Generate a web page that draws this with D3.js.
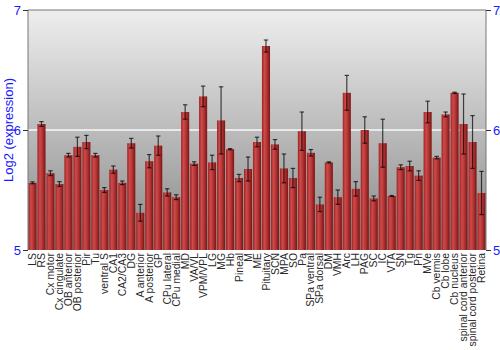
<!DOCTYPE html>
<html>
<head>
<meta charset="utf-8">
<script src="https://cdn.jsdelivr.net/npm/d3@7"></script>
<style>
  body { margin: 0; background: #fff; }
  svg { display: block; font-family: "Liberation Sans", Arial, sans-serif; }
</style>
</head>
<body>
<svg id="chart" width="500" height="350"></svg>
<script>
// tissue expression bar chart with error bars
const regions = ["LS", "RS", "Cx motor", "Cx cingulate", "OB anterior", "OB posterior", "Pir", "Tu",
    "ventral S", "CA1", "CA2/CA3", "DG", "A anterior", "A posterior", "GP", "CPu lateral", "CPu medial",
    "MD", "VA/VL", "VPM/VPL", "LG", "MG", "Hb", "Pineal", "M", "ME", "Pituitary", "SCN", "MPA", "SO",
    "Pa", "SPa ventral", "SPa dorsal", "DM", "VMH", "Arc", "LH", "PAG", "SC", "IC", "VTA", "SN", "Tg",
    "Pn", "MVe", "Cb vermis", "Cb lobe", "Cb nucleus", "spinal cord anterior", "spinal cord posterior", "Retina"];

const means = [5.56, 6.05, 5.64, 5.55, 5.79, 5.86, 5.90, 5.79,
    5.50, 5.67, 5.56, 5.89, 5.31, 5.74, 5.87, 5.48, 5.44,
    6.15, 5.72, 6.28, 5.73, 6.08, 5.84, 5.60, 5.675, 5.90, 6.70, 5.88, 5.68, 5.60,
    5.99, 5.81, 5.38, 5.73, 5.44, 6.31, 5.51, 6.00, 5.43, 5.89, 5.45, 5.69, 5.70,
    5.62, 6.15, 5.77, 6.13, 6.31, 6.05, 5.90, 5.475];

const errors = [0.008, 0.02, 0.02, 0.02, 0.015, 0.08, 0.055, 0.015,
    0.02, 0.03, 0.015, 0.04, 0.07, 0.055, 0.08, 0.03, 0.02,
    0.06, 0.015, 0.086, 0.06, 0.28, 0.005, 0.03, 0.1, 0.04, 0.05, 0.04, 0.12, 0.08,
    0.16, 0.027, 0.06, 0.005, 0.06, 0.145, 0.06, 0.11, 0.02, 0.2, 0.004, 0.02, 0.04,
    0.04, 0.09, 0.01, 0.02, 0.005, 0.25, 0.22, 0.18];

const yTicks = [5, 6, 7];

const svg = d3.select("#chart");
const margin = {top: 10, right: 14, bottom: 100, left: 28};
const W = 500, H = 350;

const x = d3.scaleBand().domain(regions).range([margin.left, W - margin.right]).paddingInner(0.1).paddingOuter(0.05);
const y = d3.scaleLinear().domain([5, 7]).range([H - margin.bottom, margin.top]);

const defs = svg.append("defs");
const bg = defs.append("linearGradient").attr("id", "bg").attr("x1", 0).attr("y1", 0).attr("x2", 0).attr("y2", 1);
bg.append("stop").attr("offset", "0%").attr("stop-color", "#eeeeee");
bg.append("stop").attr("offset", "100%").attr("stop-color", "#888888");

const barGrad = defs.append("linearGradient").attr("id", "bar").attr("x1", 0).attr("y1", 0).attr("x2", 1).attr("y2", 0);
barGrad.append("stop").attr("offset", "0%").attr("stop-color", "#9a2222");
barGrad.append("stop").attr("offset", "30%").attr("stop-color", "#cf4a4a");
barGrad.append("stop").attr("offset", "60%").attr("stop-color", "#b53535");
barGrad.append("stop").attr("offset", "100%").attr("stop-color", "#7a1414");

// plot background
svg.append("rect")
    .attr("x", margin.left).attr("y", margin.top)
    .attr("width", W - margin.left - margin.right)
    .attr("height", H - margin.top - margin.bottom)
    .attr("fill", "url(#bg)");

// gridline at 6
svg.append("line")
    .attr("x1", margin.left).attr("x2", W - margin.right)
    .attr("y1", y(6)).attr("y2", y(6))
    .attr("stroke", "#f8f8f8").attr("stroke-width", 1.5);

// bars
svg.selectAll(".bar")
    .data(regions)
    .join("rect")
    .attr("class", "bar")
    .attr("x", d => x(d))
    .attr("y", (d, i) => y(means[i]))
    .attr("width", x.bandwidth())
    .attr("height", (d, i) => y(5) - y(means[i]))
    .attr("fill", "url(#bar)");

// error bars
const eb = svg.selectAll(".err")
    .data(regions)
    .join("g")
    .attr("class", "err")
    .attr("stroke", "#000")
    .attr("stroke-opacity", 0.7)
    .attr("stroke-width", 1.2);

const cx = d => x(d) + x.bandwidth() / 2;
eb.append("line")
    .attr("x1", cx).attr("x2", cx)
    .attr("y1", (d, i) => y(means[i] - errors[i]))
    .attr("y2", (d, i) => y(means[i] + errors[i]));
eb.append("line")
    .attr("x1", d => cx(d) - 2.2).attr("x2", d => cx(d) + 2.2)
    .attr("y1", (d, i) => y(means[i] + errors[i]))
    .attr("y2", (d, i) => y(means[i] + errors[i]));
eb.append("line")
    .attr("x1", d => cx(d) - 2.2).attr("x2", d => cx(d) + 2.2)
    .attr("y1", (d, i) => y(means[i] - errors[i]))
    .attr("y2", (d, i) => y(means[i] - errors[i]));

// frame: top, left, right
svg.append("path")
    .attr("d", `M${margin.left},${y(5)}V${margin.top}H${W - margin.right}V${y(5)}`)
    .attr("fill", "none").attr("stroke", "#777").attr("stroke-width", 1);

// axes
const leftAxis = svg.append("g")
    .attr("transform", `translate(${margin.left},0)`)
    .call(d3.axisLeft(y).tickValues(yTicks).tickFormat(d3.format("d")).tickSize(5).tickPadding(2));
const rightAxis = svg.append("g")
    .attr("transform", `translate(${W - margin.right},0)`)
    .call(d3.axisRight(y).tickValues(yTicks).tickFormat(d3.format("d")).tickSize(5).tickPadding(2));
[leftAxis, rightAxis].forEach(g => {
    g.select(".domain").remove();
    g.selectAll(".tick line").attr("stroke", "#333");
    g.selectAll(".tick text").attr("fill", "#1a1aff").style("font-size", "13px")
        .style("font-family", "'Liberation Sans', Arial, sans-serif");
});

// x labels
svg.append("g")
    .selectAll("text")
    .data(regions)
    .join("text")
    .attr("transform", d => `translate(${cx(d) + 3.6},${y(5) + 3}) rotate(-90)`)
    .attr("text-anchor", "end")
    .attr("fill", "#2a2a2a")
    .style("font-size", "10.4px")
    .text(d => d);

// y title
svg.append("text")
    .attr("transform", `translate(13,${y(6)}) rotate(-90)`)
    .attr("text-anchor", "middle")
    .attr("fill", "#1a1aff")
    .style("font-size", "13px")
    .text("Log2 (expression)");
</script>
</body>
</html>
